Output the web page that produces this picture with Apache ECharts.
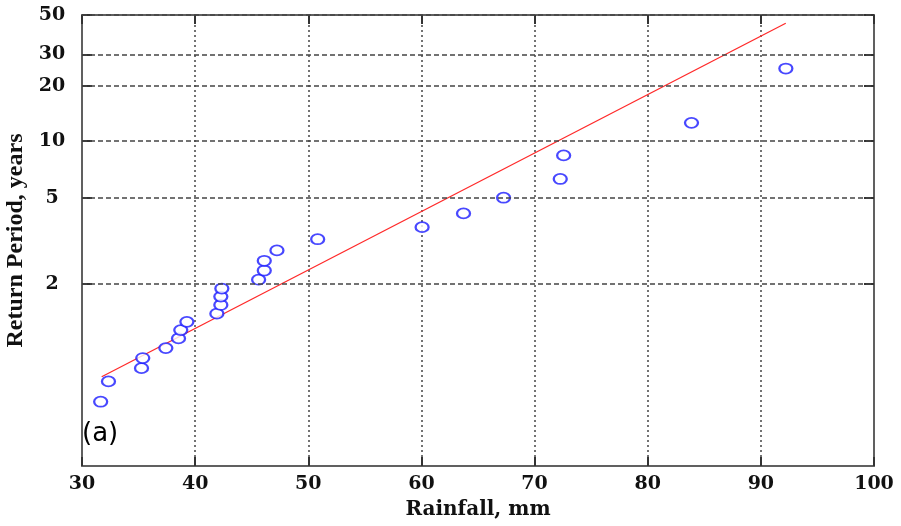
<!DOCTYPE html>
<html>
<head>
<meta charset="utf-8">
<script src="https://cdn.jsdelivr.net/npm/echarts@6/dist/echarts.min.js"></script>
<style>html,body{margin:0;background:#fff}</style>
</head>
<body>
<div id="main" style="width:901px;height:526px;"></div>
<script>
// observed annual max rainfall (mm) and plotted return period (years)
var rainfall = [31.65, 32.34, 35.26, 35.37, 37.41, 38.53, 38.73, 39.27, 41.92, 42.27, 42.27, 42.36,
  45.61, 46.11, 46.11, 47.23, 50.83, 60.06, 63.72, 67.26, 72.27, 72.57, 83.87, 92.21]
var returnPeriod = [1.04, 1.09, 1.14, 1.19, 1.25, 1.32, 1.39, 1.47, 1.56, 1.67, 1.79, 1.92,
  2.08, 2.27, 2.5, 2.78, 3.13, 3.57, 4.17, 5.0, 6.25, 8.33, 12.5, 25.0]

// fitted line (end points)
var fitRainfall = [31.74, 92.2]
var fitPeriod = [1.106, 44.9]

// y ticks (return period, years)
var periodTicks = [2, 5, 10, 20, 30, 50]

// gumbel reduced variate, the y axis is linear in it
function gumbel(T) {
  return -Math.log(-Math.log(1 - 1 / T))
}
function fromGumbel(v) {
  return 1 / (1 - Math.exp(-Math.exp(-v)))
}

var yMin = -2.026
var yMax = gumbel(50)
var tickVals = periodTicks.map(gumbel)

var serif = 'DejaVu Serif'
var axisColor = '#606060'

var myChart = echarts.init(document.getElementById('main'))

var option = {
  backgroundColor: '#fff',
  animation: false,
  title: {
    text: '(a)',
    left: 82,
    top: 421,
    padding: 0,
    textStyle: {
      fontFamily: 'DejaVu Sans',
      fontWeight: 'normal',
      fontSize: 26,
      color: '#000'
    }
  },
  grid: {
    left: 82,
    right: 27,
    top: 15,
    bottom: 60,
    outerBoundsMode: 'none'
  },
  xAxis: [
    {
      type: 'value',
      min: 30,
      max: 100,
      interval: 10,
      name: 'Rainfall, mm',
      nameLocation: 'middle',
      nameGap: 34,
      nameTextStyle: {
        fontFamily: serif,
        fontWeight: 'bold',
        fontSize: 20,
        color: '#111'
      },
      axisLine: { onZero: false, lineStyle: { color: axisColor, width: 2 } },
      axisTick: { inside: true, length: 9, lineStyle: { color: '#333', width: 2 } },
      axisLabel: {
        margin: 9,
        fontFamily: serif,
        fontWeight: 'bold',
        fontSize: 19,
        color: '#111'
      },
      splitLine: {
        show: true,
        lineStyle: { color: '#444', width: 1.5, type: [2, 3] }
      }
    },
    {
      type: 'value',
      position: 'top',
      min: 30,
      max: 100,
      interval: 10,
      axisLine: { show: true, onZero: false, lineStyle: { color: axisColor, width: 2 } },
      axisTick: { show: true, inside: true, length: 9, lineStyle: { color: '#333', width: 2 } },
      axisLabel: { show: false },
      splitLine: { show: false }
    }
  ],
  yAxis: [
    {
      type: 'value',
      min: yMin,
      max: yMax,
      name: 'Return Period, years',
      nameLocation: 'middle',
      nameGap: 49,
      nameTextStyle: {
        fontFamily: 'Liberation Serif',
        fontWeight: 'bold',
        fontSize: 24,
        color: '#111'
      },
      axisLine: { show: true, onZero: false, lineStyle: { color: axisColor, width: 2 } },
      axisTick: {
        show: true,
        inside: true,
        length: 10,
        customValues: tickVals,
        lineStyle: { color: '#333', width: 2 }
      },
      axisLabel: {
        customValues: tickVals,
        margin: 30,
        align: 'center',
        fontFamily: serif,
        fontWeight: 'bold',
        fontSize: 19,
        color: '#111',
        formatter: function (v) {
          return String(Math.round(fromGumbel(v)))
        }
      },
      splitLine: { show: false }
    },
    {
      type: 'value',
      position: 'right',
      min: yMin,
      max: yMax,
      axisLine: { show: true, onZero: false, lineStyle: { color: axisColor, width: 2 } },
      axisTick: {
        show: true,
        inside: true,
        length: 10,
        customValues: tickVals,
        lineStyle: { color: '#333', width: 2 }
      },
      axisLabel: { show: false },
      splitLine: { show: false }
    }
  ],
  series: [
    {
      type: 'line',
      name: 'fit',
      data: fitRainfall.map(function (x, i) { return [x, gumbel(fitPeriod[i])] }),
      showSymbol: false,
      lineStyle: { color: '#ff2a2a', width: 1.3 },
      markLine: {
        silent: true,
        symbol: 'none',
        label: { show: false },
        lineStyle: { color: '#444', width: 1.5, type: [5, 3] },
        data: tickVals.map(function (v) { return { yAxis: v } })
      },
      z: 3
    },
    {
      type: 'scatter',
      name: 'observed',
      data: rainfall.map(function (x, i) { return [x, gumbel(returnPeriod[i])] }),
      symbol: 'emptyCircle',
      symbolSize: [13, 10],
      itemStyle: { color: '#1a1aff', borderWidth: 1.5 },
      z: 4
    }
  ]
}

myChart.setOption(option)
</script>
</body>
</html>
